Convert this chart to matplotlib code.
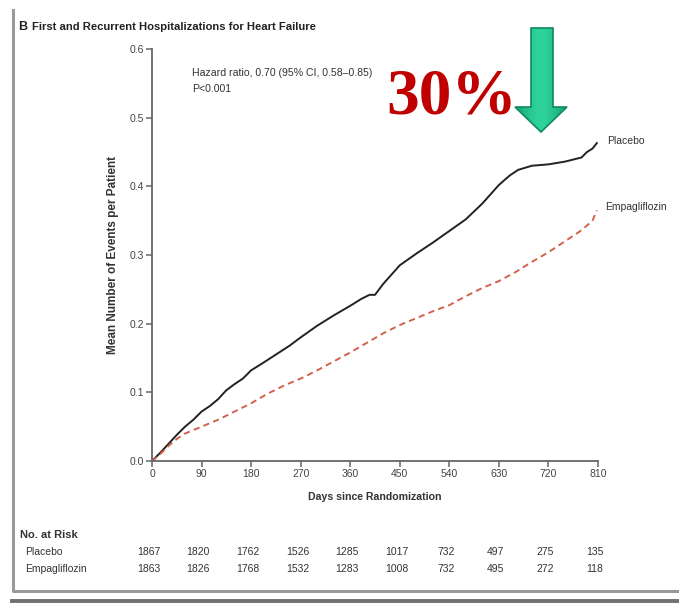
import numpy as np
import matplotlib
matplotlib.use("Agg")
import matplotlib.pyplot as plt
from matplotlib.patches import Polygon
from matplotlib.lines import Line2D

# Cumulative mean number of heart-failure hospitalizations per patient
placebo_days = [0, 15, 30, 45, 60, 75, 90, 105, 120, 135, 150, 165, 180, 200, 225,
                250, 270, 300, 330, 360, 380, 395, 405, 420, 450, 480, 510, 540,
                570, 600, 630, 650, 665, 690, 720, 750, 780, 790, 800, 808]
placebo_vals = [0.0, 0.012, 0.025, 0.038, 0.050, 0.060, 0.072, 0.080, 0.090, 0.103,
                0.112, 0.120, 0.132, 0.142, 0.155, 0.168, 0.180, 0.197, 0.212, 0.226,
                0.236, 0.242, 0.242, 0.258, 0.285, 0.302, 0.318, 0.335, 0.352, 0.375,
                0.402, 0.416, 0.424, 0.430, 0.432, 0.436, 0.442, 0.450, 0.455, 0.463]

empa_days = [0, 15, 30, 45, 60, 90, 120, 150, 180, 210, 240, 270, 300, 330, 360,
             390, 420, 450, 480, 510, 540, 570, 600, 630, 660, 690, 720, 750, 780,
             800, 808]
empa_vals = [0.0, 0.010, 0.022, 0.032, 0.040, 0.050, 0.060, 0.072, 0.084, 0.098,
             0.110, 0.120, 0.132, 0.145, 0.158, 0.172, 0.186, 0.198, 0.208, 0.218,
             0.227, 0.240, 0.252, 0.262, 0.275, 0.290, 0.304, 0.320, 0.336, 0.350,
             0.365]

x_ticks = [0, 90, 180, 270, 360, 450, 540, 630, 720, 810]
y_ticks = [0.0, 0.1, 0.2, 0.3, 0.4, 0.5, 0.6]
risk_placebo = [1867, 1820, 1762, 1526, 1285, 1017, 732, 497, 275, 135]
risk_empa = [1863, 1826, 1768, 1532, 1283, 1008, 732, 495, 272, 118]

SANS = ["Liberation Sans", "DejaVu Sans"]
SERIF = ["Liberation Serif", "DejaVu Serif"]
TXT = "#333333"
W, H = 679, 604

fig = plt.figure(figsize=(W / 100, H / 100), dpi=100)
fig.patch.set_facecolor("white")


def fx(px):
    return px / W


def fy(py):
    return 1 - py / H


ax = fig.add_axes([fx(152), fy(461), fx(598) - fx(152), fy(49) - fy(461)])
ax.plot(placebo_days, placebo_vals, color="#222222", lw=1.4)
ax.plot(empa_days, empa_vals, color="#d4604e", lw=1.4, linestyle=(0, (3.2, 2.2)))
ax.set_xlim(0, 810)
ax.set_ylim(0, 0.6)
ax.set_xticks(x_ticks)
ax.set_yticks(y_ticks)
ax.set_xticklabels([str(v) for v in x_ticks], family=SANS, fontsize=7.5, color="#444444")
ax.set_yticklabels([f"{v:.1f}" for v in y_ticks], family=SANS, fontsize=7.5, color="#444444")
for s in ("top", "right"):
    ax.spines[s].set_visible(False)
for s in ("left", "bottom"):
    ax.spines[s].set_color("#666666")
    ax.spines[s].set_linewidth(1.3)
ax.tick_params(axis="both", direction="out", length=4, width=1.1, color="#666666", pad=2)
ax.set_xlabel("Days since Randomization", family=SANS, fontsize=7.6,
              fontweight="bold", color=TXT, labelpad=9)
ax.set_ylabel("Mean Number of Events per Patient", family=SANS, fontsize=8.5,
              fontweight="bold", color=TXT, labelpad=7)


def px_to_day(px):
    return (px - 152) / 446 * 810


def py_to_val(py):
    return (461 - py) / 686.7


ax.text(px_to_day(192), py_to_val(73), "Hazard ratio, 0.70 (95% CI, 0.58\u20130.85)",
        family=SANS, fontsize=7.6, color=TXT, va="center", ha="left")
ax.text(px_to_day(192), py_to_val(89), "P<0.001",
        family=SANS, fontsize=7.6, color=TXT, va="center", ha="left")

ax.text(placebo_days[-1] + 18, placebo_vals[-1] + 0.003, "Placebo", family=SANS,
        fontsize=7.5, color=TXT, va="center", ha="left", clip_on=False)
ax.text(empa_days[-1] + 15, empa_vals[-1] + 0.005, "Empagliflozin", family=SANS,
        fontsize=7.5, color=TXT, va="center", ha="left", clip_on=False)

# Panel title
fig.text(fx(18), fy(27), "B", family=SANS, fontsize=9, fontweight="bold",
         color="#222222", va="center", ha="left")
fig.text(fx(32), fy(27), "First and Recurrent Hospitalizations for Heart Failure",
         family=SANS, fontsize=8.1, fontweight="bold", color="#222222",
         va="center", ha="left")

# Number at risk table
fig.text(fx(20), fy(535), "No. at Risk", family=SANS, fontsize=8,
         fontweight="bold", color=TXT, va="center", ha="left")
fig.text(fx(25), fy(552), "Placebo", family=SANS, fontsize=7.5, color=TXT,
         va="center", ha="left")
fig.text(fx(25), fy(569), "Empagliflozin", family=SANS, fontsize=7.5, color=TXT,
         va="center", ha="left")
blend = matplotlib.transforms.blended_transform_factory(ax.transData, fig.transFigure)
for d, a, b in zip(x_ticks, risk_placebo, risk_empa):
    fig.text(d - 6, fy(552), str(a), family=SANS, fontsize=7.5, color=TXT,
             va="center", ha="center", transform=blend)
    fig.text(d - 6, fy(569), str(b), family=SANS, fontsize=7.5, color=TXT,
             va="center", ha="center", transform=blend)

# Panel frame
fig.add_artist(Line2D([fx(13), fx(13), fx(W)], [fy(10), fy(591), fy(591)],
                      color="#9a9a9a", lw=2.2, transform=fig.transFigure))
fig.add_artist(Line2D([fx(12), fx(W)], [fy(601), fy(601)],
                      color="#707070", lw=2.8, transform=fig.transFigure))

# Relative reduction callout
fig.text(fx(386), fy(113), "30%", family=SERIF, fontsize=47, fontweight="bold",
         color="#c00000", va="baseline", ha="left")

arrow_px = [(531, 28), (553, 28), (553, 107), (567, 107), (541, 132),
            (515, 107), (531, 107)]
arrow_pts = [(fx(x), fy(y)) for x, y in arrow_px]
arrow = Polygon(arrow_pts, closed=True, transform=fig.transFigure,
                facecolor="none", edgecolor="#0e8a5f", lw=1.2, zorder=5)
fig.add_artist(arrow)
gax = fig.add_axes([fx(514), fy(133), fx(568) - fx(514), fy(27) - fy(133)])
gax.set_axis_off()
gx = np.linspace(-1, 1, 200)
shade = 1 - np.abs(gx) ** 1.5
grad = np.tile(shade, (50, 1))
cmap = matplotlib.colors.LinearSegmentedColormap.from_list(
    "grn", ["#109c6c", "#2fd49c"])
im = gax.imshow(grad, cmap=cmap, aspect="auto", extent=[0, 1, 0, 1], zorder=1)
clip = Polygon(arrow_pts, closed=True, transform=fig.transFigure,
               facecolor="none", edgecolor="none")
gax.add_patch(clip)
im.set_clip_path(clip)

fig.savefig("out.png", dpi=100, facecolor="white")
